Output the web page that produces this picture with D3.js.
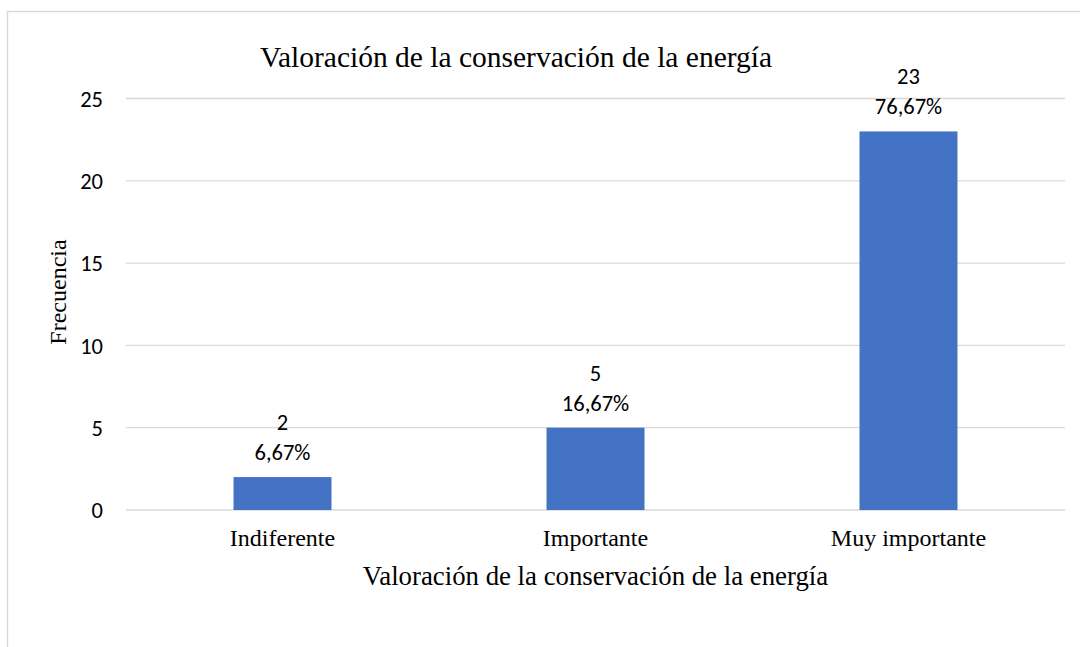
<!DOCTYPE html>
<html><head><meta charset="utf-8">
<script src="https://cdn.jsdelivr.net/npm/d3@7"></script>
<style>body{margin:0;background:#fff;}svg{display:block;}</style>
</head><body>
<svg id="c" width="1080" height="647"></svg>
<script>
const categories = ["Indiferente", "Importante", "Muy importante"];
const frequencies = [2, 5, 23];
const percents = ["6,67%", "16,67%", "76,67%"];
const yTicks = [0, 5, 10, 15, 20, 25];
const chartTitle = "Valoración de la conservación de la energía";
const xTitle = "Valoración de la conservación de la energía";
const yTitle = "Frecuencia";

const svg = d3.select("#c");
const m = {left: 126, right: 1065, top: 98.5, bottom: 510};

svg.append("rect").attr("x", 7.5).attr("y", 11.5).attr("width", 1100).attr("height", 700)
  .attr("fill", "#fff").attr("stroke", "#d9d9d9").attr("stroke-width", 1.5);

const x = d3.scaleBand().domain(categories).range([m.left, m.right]).paddingInner(0.687).paddingOuter(0.3435);
const y = d3.scaleLinear().domain([0, 25]).range([m.bottom, m.top]);

const serif = "'Liberation Serif', 'Times New Roman', serif";
const sans = "Carlito, Lato, 'Open Sans', sans-serif";
const sansSize = 22.5;

// gridlines
svg.append("g").selectAll("line").data(yTicks).join("line")
  .attr("x1", m.left).attr("x2", m.right)
  .attr("y1", d => y(d)).attr("y2", d => y(d))
  .attr("stroke", "#d9d9d9").attr("stroke-width", 1.3);

// y axis labels
const yAxis = d3.axisLeft(y).tickValues(yTicks).tickSize(0).tickPadding(0);
const gy = svg.append("g").attr("transform", `translate(103,0)`).call(yAxis);
gy.select(".domain").remove();
gy.selectAll("text").attr("font-family", sans).attr("font-size", sansSize).attr("fill", "#000").attr("dy", "0.35em");

// bars
svg.append("g").selectAll("rect").data(frequencies).join("rect")
  .attr("x", (d, i) => x(categories[i]))
  .attr("width", x.bandwidth())
  .attr("y", d => y(d))
  .attr("height", d => y(0) - y(d))
  .attr("fill", "#4472c4");

// data labels
const lab = svg.append("g").selectAll("g").data(frequencies).join("g");
lab.append("text")
  .attr("x", (d, i) => x(categories[i]) + x.bandwidth() / 2)
  .attr("y", d => y(d) - 55).attr("dy", "0.35em")
  .attr("text-anchor", "middle").attr("font-family", sans).attr("font-size", sansSize).attr("fill", "#000")
  .text(d => d);
lab.append("text")
  .attr("x", (d, i) => x(categories[i]) + x.bandwidth() / 2)
  .attr("y", d => y(d) - 25).attr("dy", "0.35em")
  .attr("text-anchor", "middle").attr("font-family", sans).attr("font-size", sansSize).attr("fill", "#000")
  .text((d, i) => percents[i]);

// x axis labels
const xAxis = d3.axisBottom(x).tickSize(0).tickPadding(0);
const gx = svg.append("g").attr("transform", `translate(0,${m.bottom})`).call(xAxis);
gx.select(".domain").remove();
gx.selectAll("text").attr("font-family", serif).attr("font-size", 24).attr("fill", "#000").attr("dy", "0").attr("y", 36);

// titles
svg.append("text").attr("x", 516).attr("y", 67).attr("text-anchor", "middle")
  .attr("font-family", serif).attr("font-size", 29.5).attr("fill", "#000").text(chartTitle);
svg.append("text").attr("x", (m.left + m.right) / 2).attr("y", 585).attr("text-anchor", "middle")
  .attr("font-family", serif).attr("font-size", 26.8).attr("fill", "#000").text(xTitle);
svg.append("text").attr("transform", `translate(66,292) rotate(-90)`).attr("text-anchor", "middle")
  .attr("font-family", serif).attr("font-size", 24).attr("fill", "#000").text(yTitle);
</script>
</body></html>
